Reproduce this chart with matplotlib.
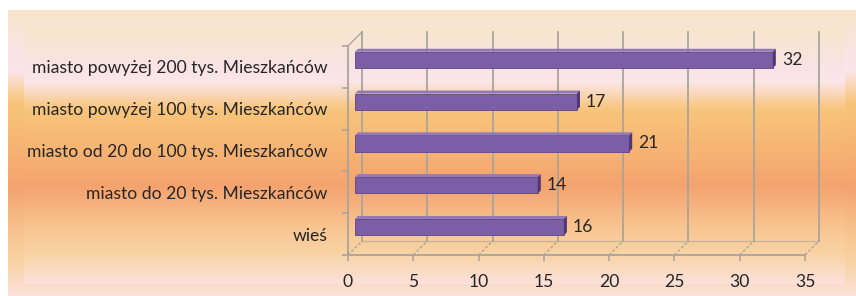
import numpy as np
import matplotlib
matplotlib.use('Agg')
import matplotlib.pyplot as plt
from matplotlib.colors import LinearSegmentedColormap
from matplotlib.patches import Polygon

plt.rcParams['font.family'] = ['Lato', 'DejaVu Sans']

# dane
categories = ['wieś', 'miasto do 20 tys. Mieszkańców', 'miasto od 20 do 100 tys. Mieszkańców',
              'miasto powyżej 100 tys. Mieszkańców', 'miasto powyżej 200 tys. Mieszkańców']
values = [16, 14, 21, 17, 32]
x_ticks = [0, 5, 10, 15, 20, 25, 30, 35]

W, H = 856, 296
fig = plt.figure(figsize=(W / 100, H / 100), dpi=100)

# tło - gradient
stops = [(0.0, '#f8e6cc'), (0.16, '#fae3e6'), (0.21, '#fbe6ea'), (0.32, '#f8c57c'),
         (0.45, '#f7b774'), (0.62, '#f4a36f'), (0.78, '#f8c590'), (0.88, '#f9d3a4'),
         (1.0, '#fbe1da')]
cmap = LinearSegmentedColormap.from_list('bg', stops)
grad = np.linspace(0, 1, 256).reshape(-1, 1)

bg1 = fig.add_axes([8 / W, 0, 1 - 8 / W, 1 - 10 / H])
bg1.imshow(grad, aspect='auto', cmap=cmap, extent=[0, 1, 0, 1])
bg1.axis('off')
bg2 = fig.add_axes([24 / W, 12 / H, (845 - 24) / W, (284 - 27) / H])
bg2.imshow(grad, aspect='auto', cmap=cmap, extent=[0, 1, 0, 1])
bg2.axis('off')

# wykres (płaszczyzna przednia)
x0, x1, yb, yt = 348, 805, 255, 46
ax = fig.add_axes([x0 / W, 1 - yb / H, (x1 - x0) / W, (yb - yt) / H])
ax.set_facecolor('none')
ax.set_xlim(0, 35)
ax.set_ylim(-0.5, 4.5)

px_x = 35 / (x1 - x0)          # jednostki danych na piksel
px_y = 5 / (yb - yt)
dx, dy = 14 * px_x, 14 * px_y  # głębia 3D
grid_c = '#aaa49c'
fs = 12.6

# tylna ściana - linie siatki
for v in x_ticks:
    ax.plot([v + dx, v + dx], [-0.5 + dy, 4.5 + dy], color=grid_c, lw=1.3, clip_on=False, zorder=1)
    ax.plot([v, v + dx], [-0.5, -0.5 + dy], color=grid_c, lw=1.0, ls=(0, (2, 1.5)),
            clip_on=False, zorder=1)
ax.plot([0, dx], [4.5, 4.5 + dy], color=grid_c, lw=1.0, clip_on=False, zorder=1)
ax.plot([dx, 35 + dx], [-0.5 + dy, -0.5 + dy], color=grid_c, lw=1.0, alpha=0.6,
        clip_on=False, zorder=1)

# słupki
ypos = np.arange(len(categories))
bh = 0.39
hx, hy = dx / 2, dy / 2
ax.barh(ypos + hy, values, left=hx, height=bh, color='#7c5ea6',
        edgecolor='#5e4485', linewidth=0.6, zorder=3)
cx, cy = 3 * px_x, 3 * px_y
for y, v in zip(ypos, values):
    yc = y + hy
    top = Polygon([(hx, yc + bh / 2), (hx + cx, yc + bh / 2 + cy),
                   (hx + v + cx, yc + bh / 2 + cy), (hx + v, yc + bh / 2)],
                  closed=True, facecolor='#9279b8', edgecolor='none', zorder=3)
    end = Polygon([(hx + v, yc - bh / 2), (hx + v + cx, yc - bh / 2 + cy),
                   (hx + v + cx, yc + bh / 2 + cy), (hx + v, yc + bh / 2)],
                  closed=True, facecolor='#4f3676', edgecolor='none', zorder=3)
    ax.add_patch(top)
    ax.add_patch(end)
    ax.text(hx + v + cx + 6 * px_x, yc, str(v), ha='left', va='center',
            fontsize=fs, color='#262626', zorder=4)

# osie
for s in ['top', 'right']:
    ax.spines[s].set_visible(False)
for s in ['bottom', 'left']:
    ax.spines[s].set_color(grid_c)
    ax.spines[s].set_linewidth(1.3)
ax.set_xticks(x_ticks)
ax.set_xticklabels([str(t) for t in x_ticks])
ax.set_yticks(ypos)
ax.set_yticklabels(categories)
ax.set_yticks(np.arange(-0.5, 5, 1), minor=True)
ax.tick_params(axis='x', colors=grid_c, length=4, width=1.2, pad=10, labelsize=fs,
               labelcolor='#262626')
ax.tick_params(axis='y', which='major', length=0, pad=15, labelsize=fs, labelcolor='#262626')
ax.tick_params(axis='y', which='minor', length=4, width=1.2, colors=grid_c)

fig.savefig('out.png', dpi=100)
